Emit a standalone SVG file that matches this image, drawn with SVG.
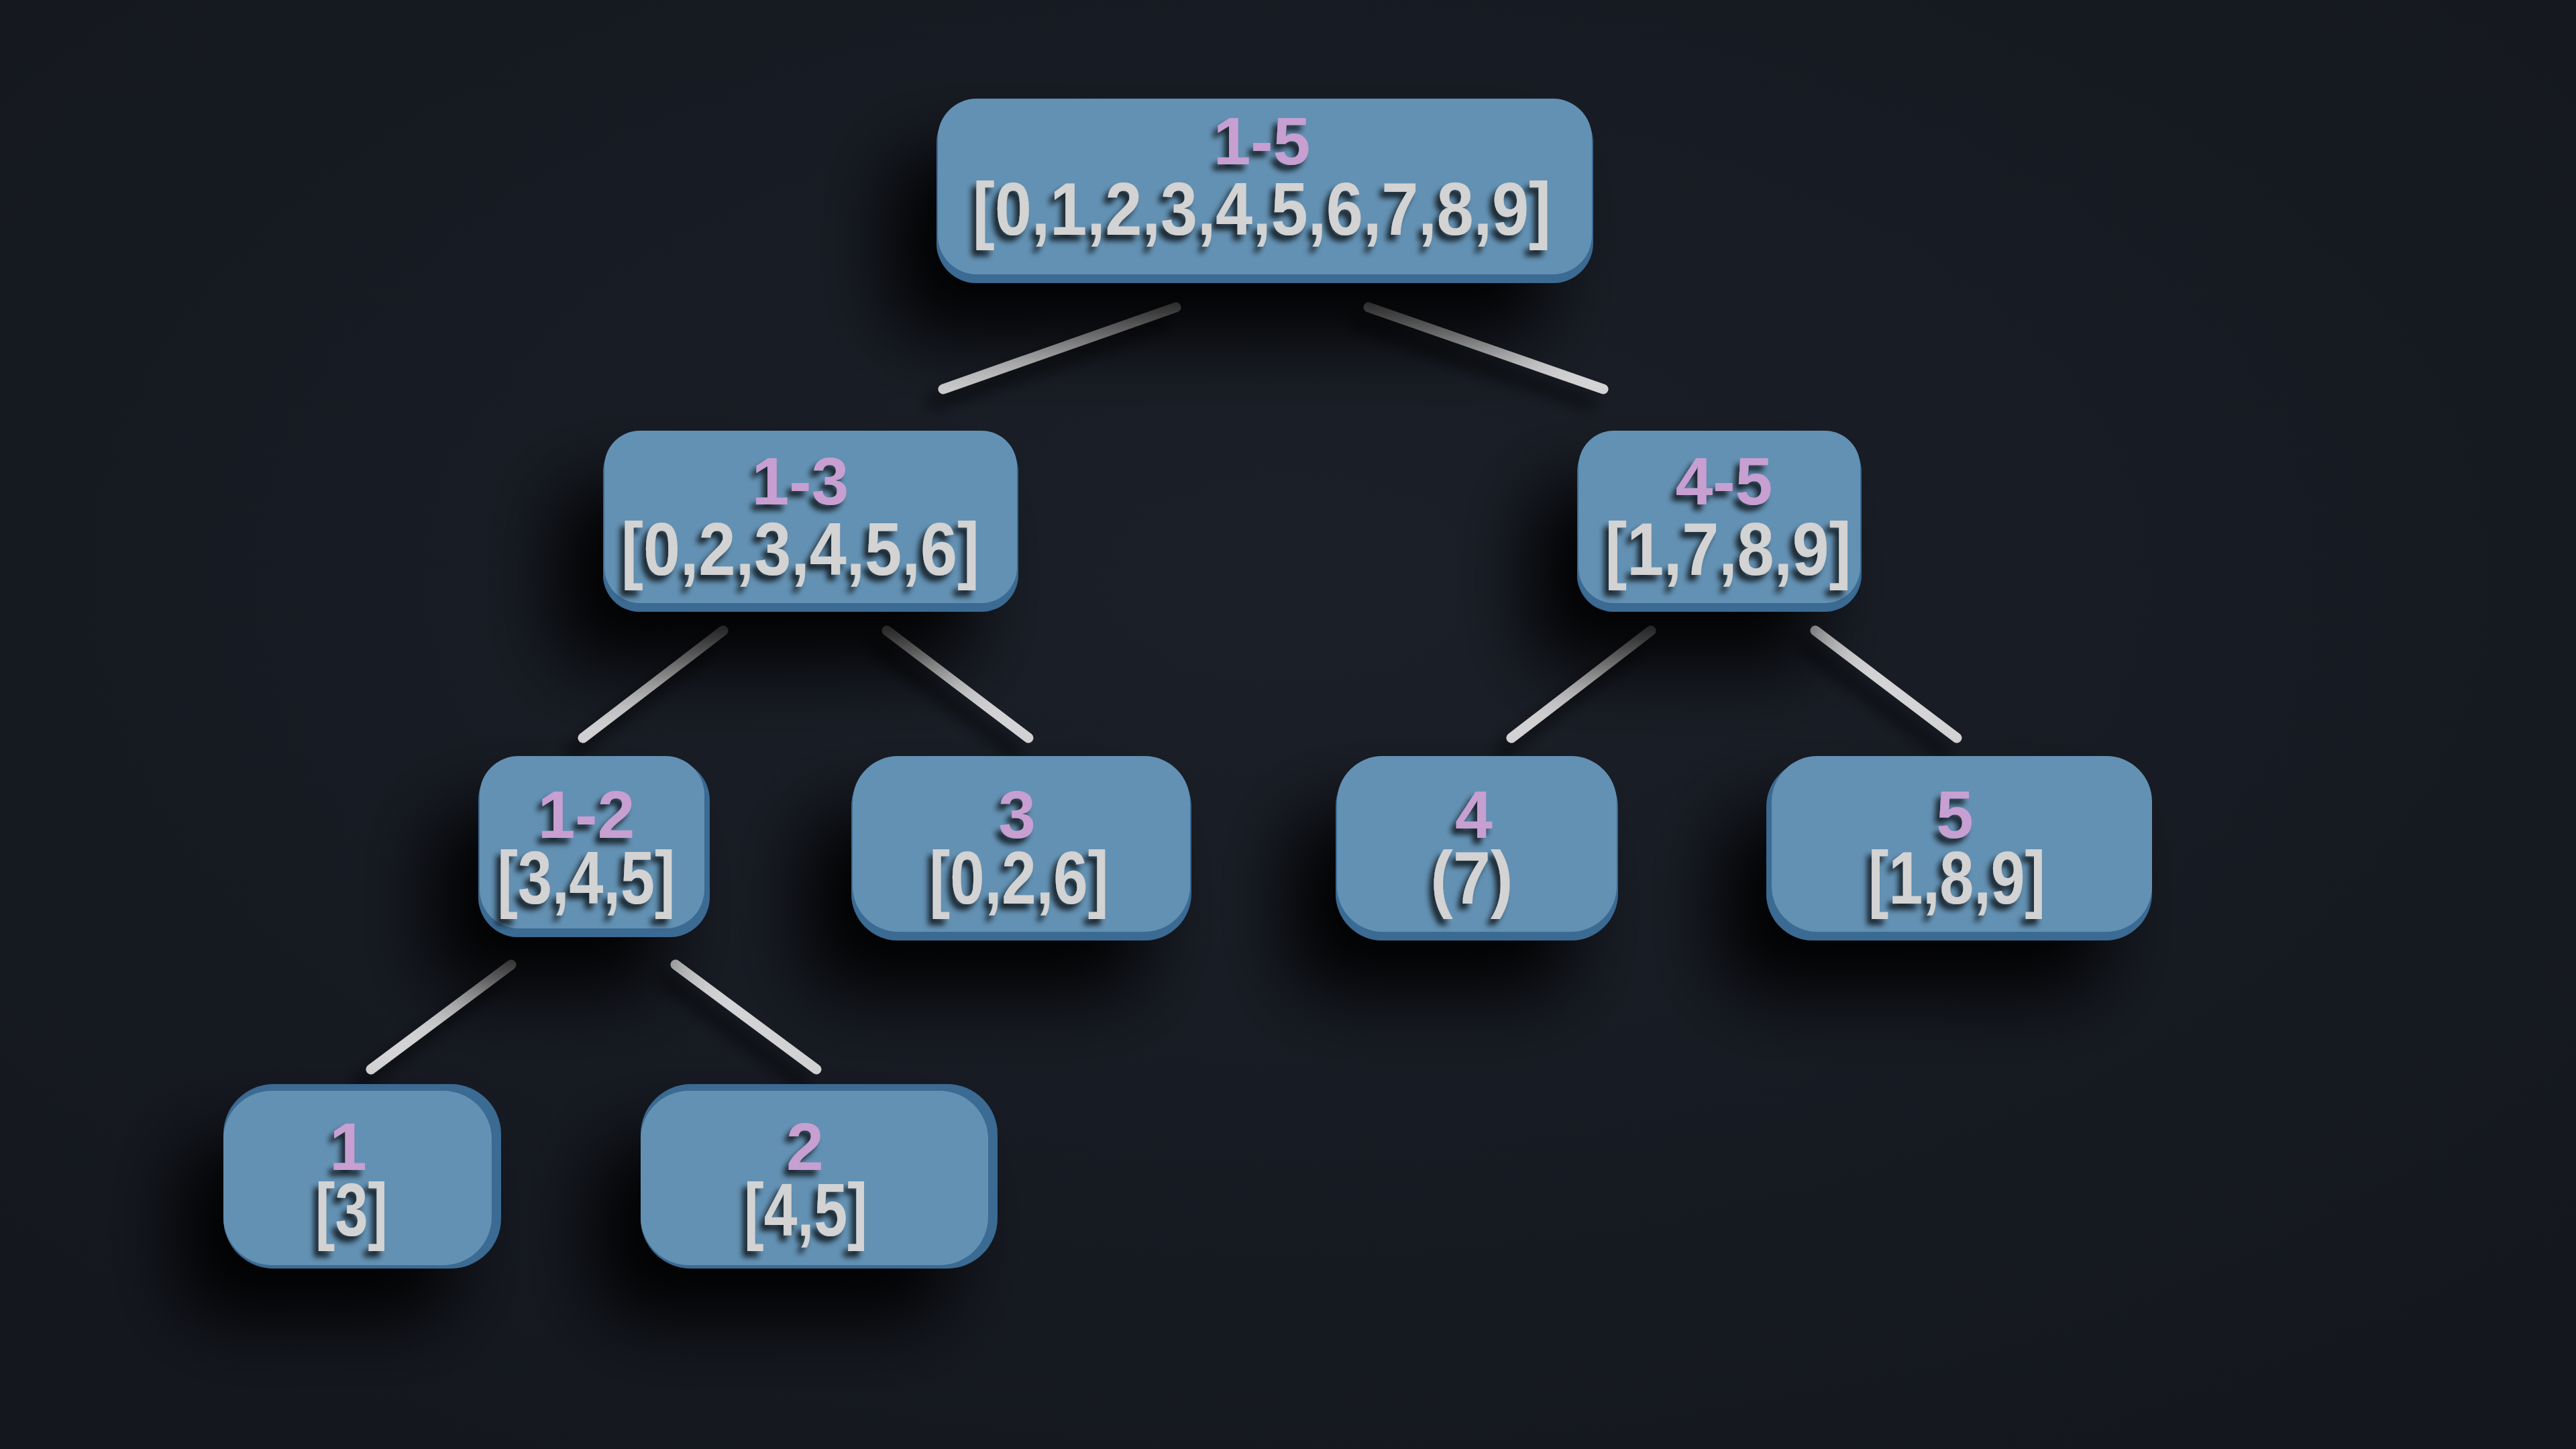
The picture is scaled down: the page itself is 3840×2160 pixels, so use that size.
<svg xmlns="http://www.w3.org/2000/svg" width="3840" height="2160" viewBox="0 0 3840 2160">
<defs>
<radialGradient id="bg" cx="50%" cy="40%" r="70%">
<stop offset="0" stop-color="#1b1f28"/>
<stop offset="1" stop-color="#14171e"/>
</radialGradient>
<filter id="boxShadow" x="-50%" y="-50%" width="200%" height="220%">
<feGaussianBlur in="SourceAlpha" stdDeviation="55"/>
<feOffset dx="-70" dy="80" result="b"/>
<feComponentTransfer><feFuncA type="linear" slope="0.95"/></feComponentTransfer>
<feMerge><feMergeNode/><feMergeNode in="SourceGraphic"/></feMerge>
</filter>
<filter id="txtShadow" x="-20%" y="-30%" width="140%" height="170%">
<feGaussianBlur in="SourceAlpha" stdDeviation="4"/>
<feOffset dx="-7" dy="9"/>
<feComponentTransfer><feFuncA type="linear" slope="0.75"/></feComponentTransfer>
<feMerge><feMergeNode/><feMergeNode in="SourceGraphic"/></feMerge>
</filter>
<filter id="lineShadow" x="-20%" y="-50%" width="140%" height="220%">
<feGaussianBlur in="SourceAlpha" stdDeviation="12"/>
<feOffset dx="-18" dy="22"/>
<feComponentTransfer><feFuncA type="linear" slope="0.7"/></feComponentTransfer>
<feMerge><feMergeNode/><feMergeNode in="SourceGraphic"/></feMerge>
</filter>
</defs>
<style>
.edge{fill:#3a6a93}
.face{fill:#6391b3}
.lbl{font-family:"Liberation Sans",Arial,sans-serif;font-weight:bold;font-size:100px;fill:#c79fd1;text-anchor:middle}
.lst{font-family:"Liberation Sans",Arial,sans-serif;font-weight:bold;font-size:112px;fill:#d3d3d3;text-anchor:middle}
.conn line{stroke:#d4d4d6;stroke-width:15;stroke-linecap:round}
</style>
<rect width="3840" height="2160" fill="url(#bg)"/>
<g id="connectors" class="conn" filter="url(#lineShadow)">
<line x1="1753" y1="458" x2="1406" y2="580"/>
<line x1="2040" y1="458" x2="2390" y2="580"/>
<line x1="1078" y1="940" x2="869" y2="1100"/>
<line x1="1322" y1="940" x2="1533" y2="1100"/>
<line x1="2461" y1="940" x2="2253" y2="1100"/>
<line x1="2706" y1="940" x2="2917" y2="1100"/>
<line x1="762" y1="1438" x2="553" y2="1594"/>
<line x1="1007" y1="1438" x2="1217" y2="1594"/>
</g>
<g id="node-1-5">
<g filter="url(#boxShadow)">
<rect class="edge" x="1396" y="153" width="979" height="269" rx="60"/>
<rect class="face" x="1398" y="147" width="975" height="262" rx="58"/>
</g>
<g filter="url(#txtShadow)">
<text class="lbl" x="1881" y="245">1-5</text>
<text class="lst" x="1881" y="350" textLength="862" lengthAdjust="spacingAndGlyphs">[0,1,2,3,4,5,6,7,8,9]</text>
</g>
</g>
<g id="node-1-3">
<g filter="url(#boxShadow)">
<rect class="edge" x="899" y="648" width="619" height="264" rx="55"/>
<rect class="face" x="901" y="642" width="615" height="257" rx="53"/>
</g>
<g filter="url(#txtShadow)">
<text class="lbl" x="1193" y="752">1-3</text>
<text class="lst" x="1193" y="857" textLength="534" lengthAdjust="spacingAndGlyphs">[0,2,3,4,5,6]</text>
</g>
</g>
<g id="node-4-5">
<g filter="url(#boxShadow)">
<rect class="edge" x="2351" y="648" width="424" height="264" rx="55"/>
<rect class="face" x="2353" y="642" width="420" height="257" rx="53"/>
</g>
<g filter="url(#txtShadow)">
<text class="lbl" x="2570" y="752">4-5</text>
<text class="lst" x="2576" y="857" textLength="367" lengthAdjust="spacingAndGlyphs">[1,7,8,9]</text>
</g>
</g>
<g id="node-1-2">
<g filter="url(#boxShadow)">
<rect class="edge" x="713" y="1133" width="345" height="264" rx="60"/>
<rect class="face" x="715" y="1127" width="335" height="257" rx="58"/>
</g>
<g filter="url(#txtShadow)">
<text class="lbl" x="874" y="1249">1-2</text>
<text class="lst" x="874" y="1347" textLength="265" lengthAdjust="spacingAndGlyphs">[3,4,5]</text>
</g>
</g>
<g id="node-3">
<g filter="url(#boxShadow)">
<rect class="edge" x="1269" y="1133" width="507" height="269" rx="70"/>
<rect class="face" x="1271" y="1127" width="503" height="262" rx="68"/>
</g>
<g filter="url(#txtShadow)">
<text class="lbl" x="1516" y="1249">3</text>
<text class="lst" x="1519" y="1347" textLength="267" lengthAdjust="spacingAndGlyphs">[0,2,6]</text>
</g>
</g>
<g id="node-4">
<g filter="url(#boxShadow)">
<rect class="edge" x="1991" y="1133" width="421" height="269" rx="70"/>
<rect class="face" x="1993" y="1127" width="417" height="262" rx="68"/>
</g>
<g filter="url(#txtShadow)">
<text class="lbl" x="2197" y="1249">4</text>
<text class="lst" x="2194" y="1347" textLength="123" lengthAdjust="spacingAndGlyphs">(7)</text>
</g>
</g>
<g id="node-5">
<g filter="url(#boxShadow)">
<rect class="edge" x="2633" y="1133" width="575" height="269" rx="70"/>
<rect class="face" x="2641" y="1127" width="567" height="262" rx="68"/>
</g>
<g filter="url(#txtShadow)">
<text class="lbl" x="2914" y="1249">5</text>
<text class="lst" x="2917" y="1347" textLength="264" lengthAdjust="spacingAndGlyphs">[1,8,9]</text>
</g>
</g>
<g id="node-1">
<g filter="url(#boxShadow)">
<rect class="edge" x="333" y="1616" width="414" height="275" rx="75"/>
<rect class="face" x="333" y="1626" width="400" height="260" rx="72"/>
</g>
<g filter="url(#txtShadow)">
<text class="lbl" x="519" y="1744">1</text>
<text class="lst" x="524" y="1842" textLength="108" lengthAdjust="spacingAndGlyphs">[3]</text>
</g>
</g>
<g id="node-2">
<g filter="url(#boxShadow)">
<rect class="edge" x="955" y="1616" width="532" height="275" rx="75"/>
<rect class="face" x="955" y="1626" width="518" height="260" rx="72"/>
</g>
<g filter="url(#txtShadow)">
<text class="lbl" x="1200" y="1744">2</text>
<text class="lst" x="1201" y="1842" textLength="184" lengthAdjust="spacingAndGlyphs">[4,5]</text>
</g>
</g>
</svg>
